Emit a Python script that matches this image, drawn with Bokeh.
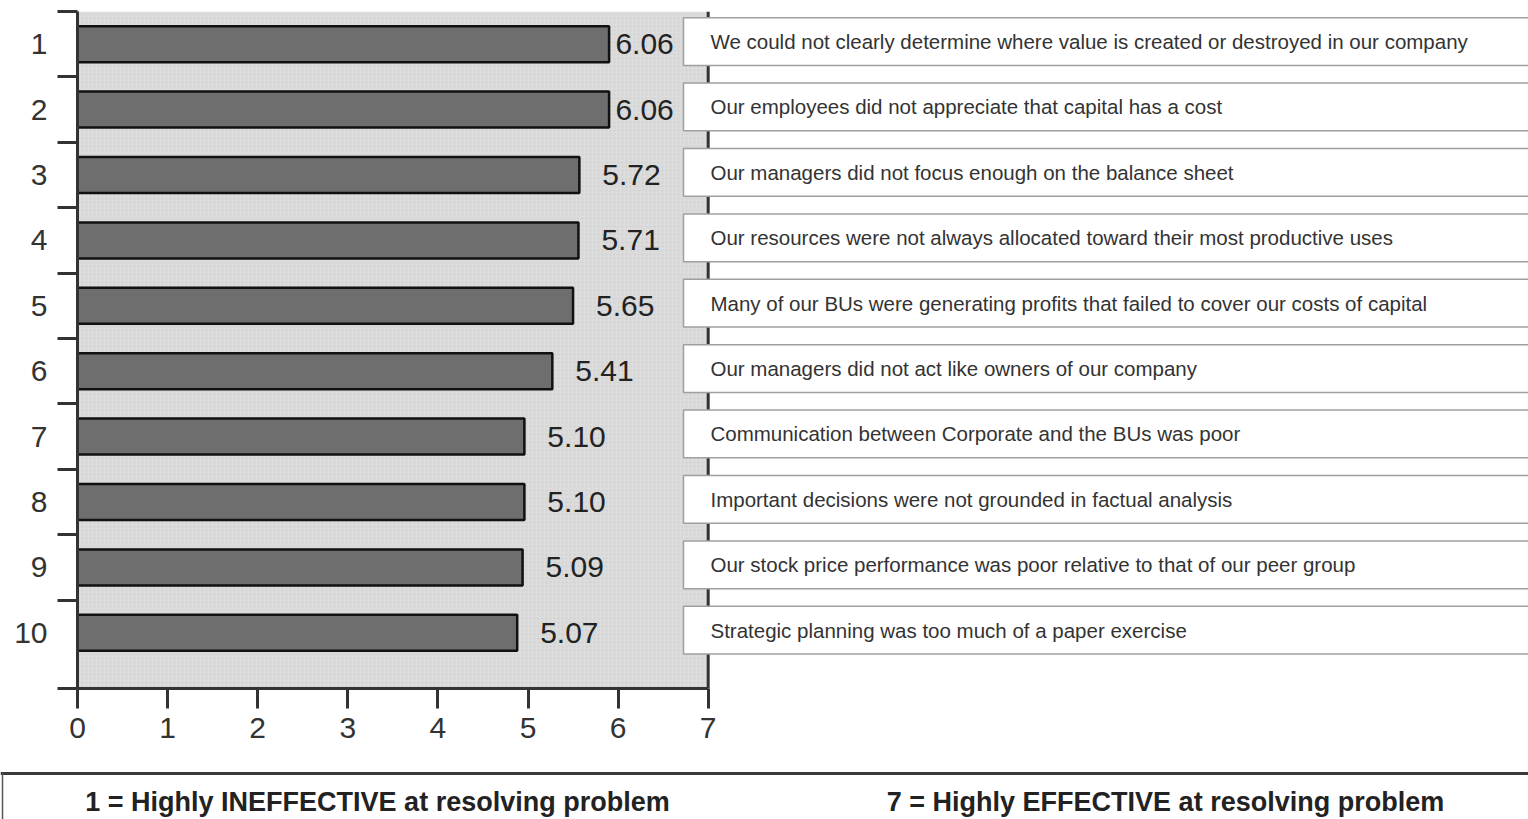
from bokeh.plotting import figure
from bokeh.models import Range1d, FixedTicker, ColumnDataSource
from bokeh.embed import file_html
from bokeh.resources import INLINE
from bokeh.core.properties import value

# ---------------- data ----------------
ranks = [1, 2, 3, 4, 5, 6, 7, 8, 9, 10]
scores = [6.06, 6.06, 5.72, 5.71, 5.65, 5.41, 5.10, 5.10, 5.09, 5.07]
# bar ends as drawn in the picture
bar_ends = [5.90, 5.90, 5.57, 5.56, 5.50, 5.27, 4.96, 4.96, 4.94, 4.88]
statements = [
    "We could not clearly determine where value is created or destroyed in our company",
    "Our employees did not appreciate that capital has a cost",
    "Our managers did not focus enough on the balance sheet",
    "Our resources were not always allocated toward their most productive uses",
    "Many of our BUs were generating profits that failed to cover our costs of capital",
    "Our managers did not act like owners of our company",
    "Communication between Corporate and the BUs was poor",
    "Important decisions were not grounded in factual analysis",
    "Our stock price performance was poor relative to that of our peer group",
    "Strategic planning was too much of a paper exercise",
]
x_ticks = [0, 1, 2, 3, 4, 5, 6, 7]
scale_labels = ["1 = Highly INEFFECTIVE at resolving problem",
                "7 = Highly EFFECTIVE at resolving problem"]

FONT = "Liberation Sans"
DARK = "#333333"

# ---------------- main chart ----------------
W = 1528
H1 = 770
px_per_unit = 90.1
x_max = (W - 77) / px_per_unit
y_top = 0.5
y_bot = 0.5 + 677 / 65.4

p = figure(width=W, height=H1, output_backend="svg", toolbar_location=None,
           x_range=Range1d(0, x_max), y_range=Range1d(y_bot, y_top),
           min_border_left=77, min_border_right=0, min_border_top=11,
           min_border_bottom=H1 - 688)
p.outline_line_color = None
p.grid.visible = False
p.background_fill_color = "white"
p.border_fill_color = "white"

# x axis
xa = p.xaxis[0]
xa.ticker = FixedTicker(ticks=x_ticks, minor_ticks=[])
xa.bounds = (0, 7)
xa.axis_line_width = 3
xa.axis_line_color = DARK
xa.major_tick_line_width = 3
xa.major_tick_line_color = DARK
xa.major_tick_in = 0
xa.major_tick_out = 20
xa.major_label_standoff = 9
xa.major_label_text_font = FONT
xa.major_label_text_font_size = "30px"
xa.major_label_text_color = DARK

# y axis
ya = p.yaxis[0]
minor = [r - 0.5 for r in ranks] + [y_bot]
ya.ticker = FixedTicker(ticks=ranks, minor_ticks=minor)
ya.axis_line_width = 3
ya.axis_line_color = DARK
ya.major_tick_line_alpha = 0
ya.major_tick_in = 0
ya.major_tick_out = 20
ya.minor_tick_in = 0
ya.minor_tick_out = 20
ya.minor_tick_line_width = 3
ya.minor_tick_line_color = DARK
ya.major_label_standoff = 10
ya.major_label_text_font = FONT
ya.major_label_text_font_size = "30px"
ya.major_label_text_color = DARK

# plot area background
p.quad(left=0, right=7, top=y_top, bottom=y_bot, fill_color="#dcdcdc",
       line_color=None, hatch_pattern="dot", hatch_color="#c4c4c4",
       hatch_scale=4, hatch_alpha=0.5)
p.segment(x0=7, y0=y_top, x1=7, y1=y_bot, line_color=DARK, line_width=3)

src = ColumnDataSource(dict(
    rank=ranks,
    end=bar_ends,
    label=[f"{s:.2f}" for s in scores],
    label_x=[min(e + 0.255, 5.97) for e in bar_ends],
    stmt=statements,
    box_top=[r - 0.04 - 0.365 for r in ranks],
    box_bot=[r - 0.04 + 0.365 for r in ranks],
    box_y=[r - 0.04 for r in ranks],
))

p.hbar(y="rank", left=0, right="end", height=0.55, source=src,
       fill_color="#6e6e6e", line_color="#111111", line_width=2.5)

p.text(x="label_x", y="rank", text="label", source=src,
       text_font=value(FONT), text_font_size="30px", text_color="#222222",
       text_align="left", text_baseline="middle", y_offset=0)

p.quad(left=6.726, right=x_max + 1, top="box_top", bottom="box_bot", source=src,
       fill_color="white", line_color="#a0a0a0", line_width=1.5)

p.text(x=7.025, y="box_y", text="stmt", source=src,
       text_font=value(FONT), text_font_size="20.5px", text_color="#333333",
       text_align="left", text_baseline="middle")

# ---------------- scale legend box ----------------
H2 = 819 - H1
q = figure(width=W, height=H2, output_backend="svg", toolbar_location=None,
           x_range=Range1d(0, W), y_range=Range1d(0, H2),
           min_border=0, x_axis_location=None, y_axis_location=None)
q.outline_line_color = None
q.grid.visible = False
q.background_fill_color = "white"
q.border_fill_color = "white"

q.segment(x0=0, y0=H2 - 3, x1=W, y1=H2 - 3, line_color="#3a3a3a", line_width=3)
q.segment(x0=2, y0=0, x1=2, y1=H2 - 3, line_color="#555555", line_width=1.5)
q.text(x=[377, 1165], y=[17.5, 17.5], text=scale_labels,
       text_font=value(FONT), text_font_style="bold", text_font_size="27px",
       text_color="#222222", text_align="center", text_baseline="middle")

open("out.html", "w").write(file_html([p, q], INLINE))
